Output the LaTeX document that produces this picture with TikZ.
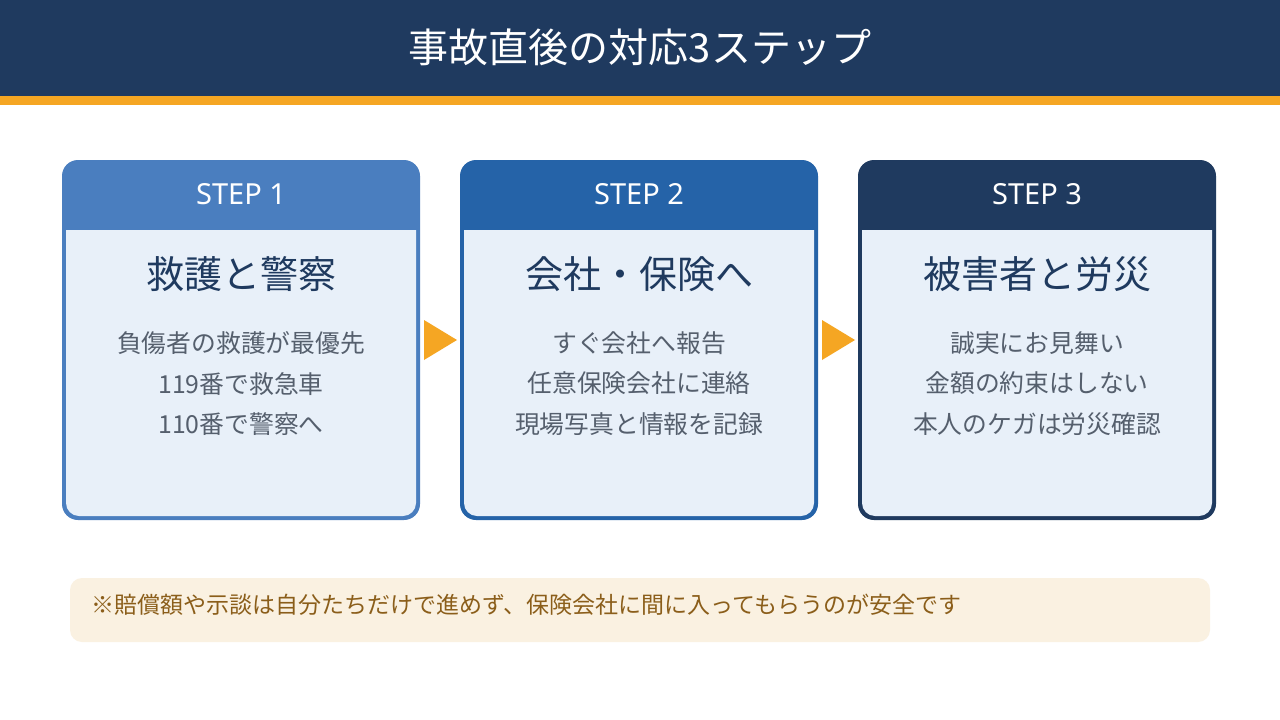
\documentclass[tikz,border=0pt]{standalone}
\usepackage{fontspec}
\setmainfont{Noto Sans CJK JP}
\newfontfamily\latinfont{Noto Sans}
\definecolor{navy}{HTML}{1F3A5F}
\definecolor{accent}{HTML}{F5A623}
\definecolor{cardA}{HTML}{4A7EBF}
\definecolor{cardB}{HTML}{2563A8}
\definecolor{cardC}{HTML}{1F3A5F}
\definecolor{cardfill}{HTML}{E8F0F9}
\definecolor{bodytext}{HTML}{555F6D}
\definecolor{notefill}{HTML}{FAF1E1}
\definecolor{notetext}{HTML}{8B5E1A}
\tikzset{
  steplabel/.style={text=white,font=\fontsize{29}{34}\selectfont\latinfont,anchor=center},
  cardtitle/.style={text=navy,font=\fontsize{38}{44}\selectfont,anchor=center},
  cardbody/.style={text=bodytext,font=\fontsize{24.8}{40.5}\selectfont,align=center,anchor=north},
  flowarrow/.style={fill=accent,draw=none},
}
\newcommand{\stepcard}[6]{%
  \fill[#2,rounded corners=16pt] (#1,160) rectangle ++(358,360);
  \fill[cardfill,rounded corners=13pt] (#1+4,200) rectangle (#1+354,516);
  \fill[#2] (#1+2,199) rectangle (#1+356,230);
  \node[steplabel] (#6s) at (#1+179,194) {#3};
  \node[cardtitle] (#6t) at (#1+179,274) {#4};
  \node[cardbody] (#6b) at (#1+179,328) {#5};
  \coordinate (#6l) at (#1,340);
  \coordinate (#6r) at (#1+358,340);
}
\begin{document}
\begin{tikzpicture}[x=1pt,y=-1pt]
\useasboundingbox (0,0) rectangle (1280,720);
\fill[white] (0,0) rectangle (1280,720);
\fill[navy] (0,0) rectangle (1280,96);
\fill[accent] (0,96) rectangle (1280,105);
\node[text=white,font=\fontsize{40}{46}\selectfont] (title) at (640,47) {事故直後の対応3ステップ};

\stepcard{62}{cardA}{STEP 1}{救護と警察}{負傷者の救護が最優先\\119番で救急車\\110番で警察へ}{c1}
\stepcard{460}{cardB}{STEP 2}{会社・保険へ}{すぐ会社へ報告\\任意保険会社に連絡\\現場写真と情報を記録}{c2}
\stepcard{858}{cardC}{STEP 3}{被害者と労災}{誠実にお見舞い\\金額の約束はしない\\本人のケガは労災確認}{c3}

\fill[flowarrow] (424,320) -- (457,340) -- (424,360) -- cycle;
\fill[flowarrow] (822,320) -- (855,340) -- (822,360) -- cycle;

\fill[notefill,rounded corners=12pt] (70,578) rectangle (1210,642);
\node[text=notetext,font=\fontsize{23}{28}\selectfont,anchor=west] (note) at (88,605) {※賠償額や示談は自分たちだけで進めず、保険会社に間に入ってもらうのが安全です};
\end{tikzpicture}
\end{document}
